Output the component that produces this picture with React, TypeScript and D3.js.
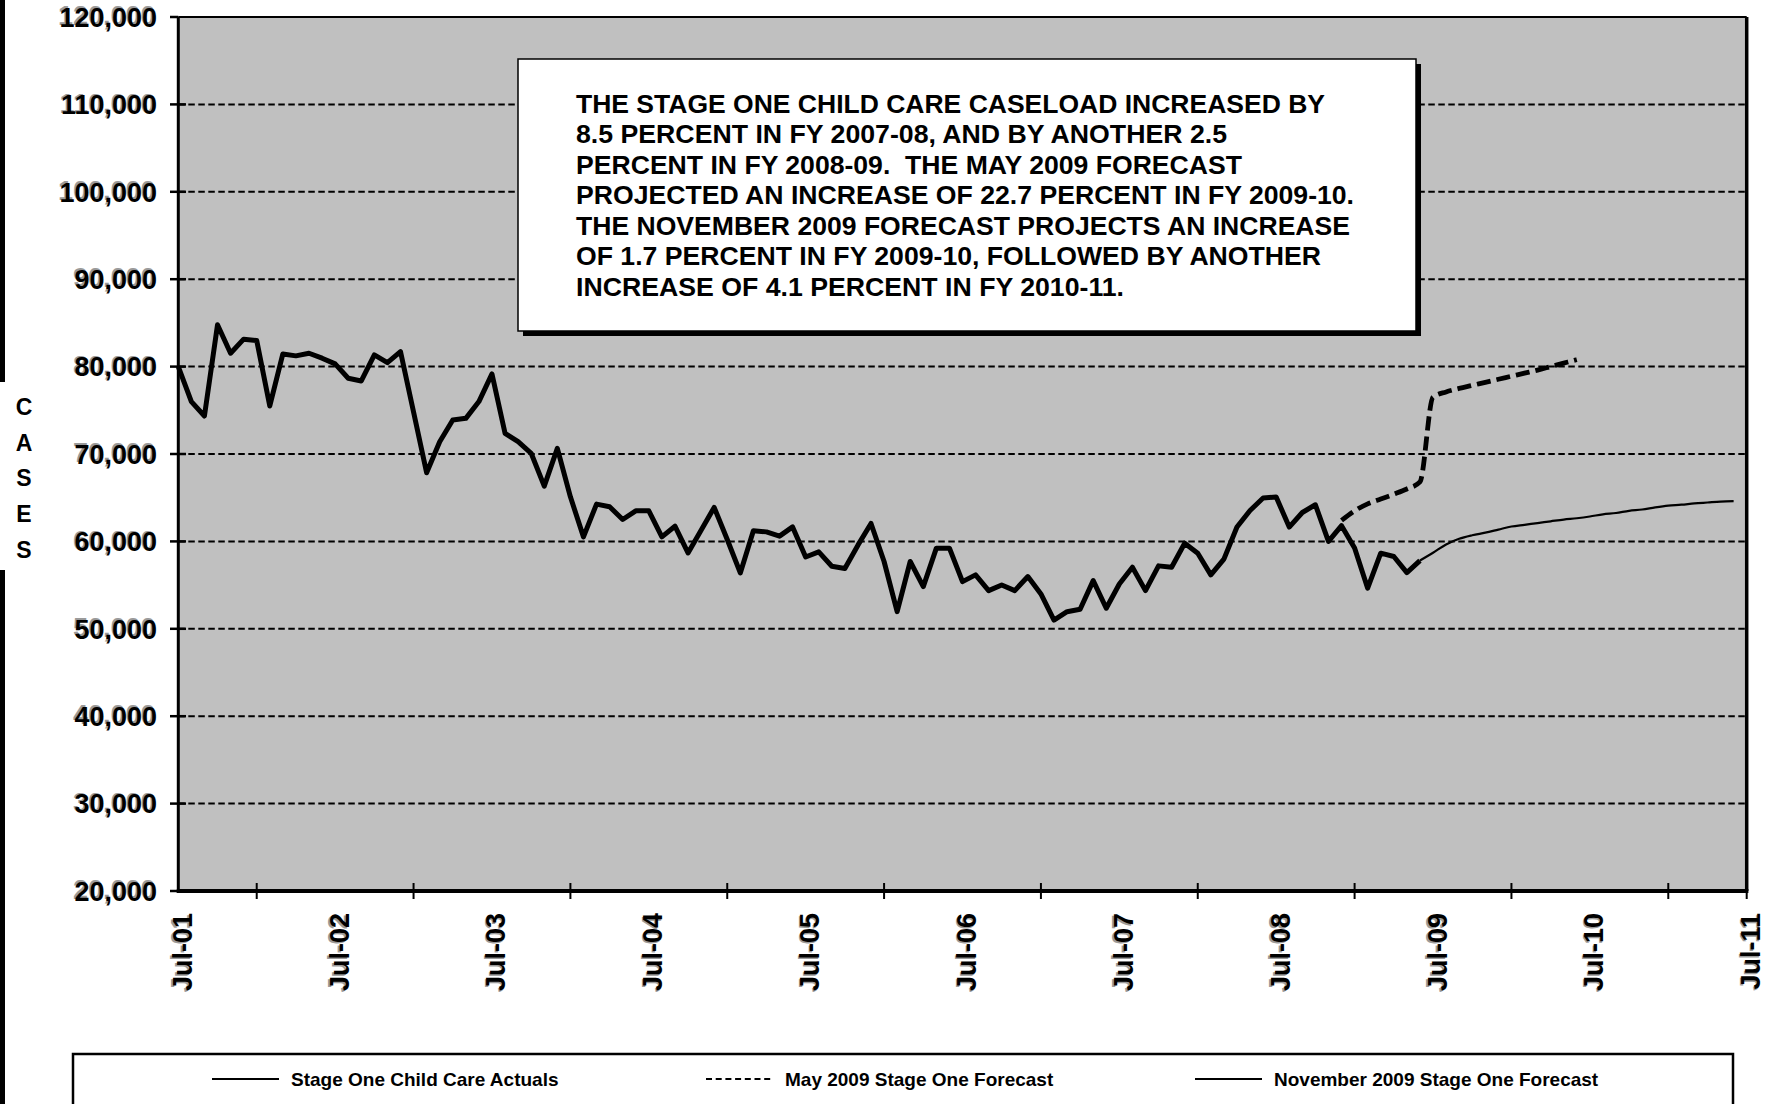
import React from 'react';
import * as d3 from 'd3';

// Monthly caseload, index 0 = Jul-01
const actualStart = 0;
const actuals = [
  80000, 76000, 74350, 84780, 81530, 83140, 82980, 75500, 81450, 81230, 81530, 80960,
  80310, 78670, 78360, 81340, 80460, 81720, 74810, 67860, 71410, 73890, 74080, 76000,
  79160, 72370, 71410, 70080, 66330, 70650, 65100, 60520, 64270, 63960, 62510, 63500,
  63500, 60520, 61740, 58680, 61280, 63890, 60220, 56390, 61210, 61090, 60600, 61660,
  58220, 58800, 57160, 56890, 59570, 62050, 57700, 51960, 57700, 54830, 59230, 59230,
  55400, 56170, 54370, 55020, 54370, 55980, 53990, 51000, 51960, 52230, 55510, 52350,
  55130, 57040, 54370, 57200, 57040, 59790, 58650, 56170, 57970, 61640, 63540, 64960,
  65080, 61640, 63310, 64190, 60000, 61800, 59240, 54650, 58650, 58270, 56430, 57810,
];

const mayStart = 89;
const mayForecast = [
  62400, 63500, 64300, 64850, 65400, 66000, 66800, 76500, 77100, 77500, 77850, 78200,
  78550, 78900, 79250, 79600, 80000, 80400, 80800,
];

const novStart = 95;
const novForecast = [
  57810, 58700, 59650, 60300, 60700, 61000, 61350, 61700, 61900, 62100, 62300, 62500,
  62650, 62850, 63100, 63250, 63500, 63650, 63900, 64100, 64200, 64350, 64450, 64550, 64600,
];

const yTicks = [20000, 30000, 40000, 50000, 60000, 70000, 80000, 90000, 100000, 110000, 120000];
const xLabels = ['Jul-01', 'Jul-02', 'Jul-03', 'Jul-04', 'Jul-05', 'Jul-06', 'Jul-07', 'Jul-08', 'Jul-09', 'Jul-10', 'Jul-11'];
const xTickMonths = [6, 18, 30, 42, 54, 66, 78, 90, 102, 114, 120];

const noteLines = [
  'THE STAGE ONE CHILD CARE CASELOAD INCREASED BY',
  '8.5 PERCENT IN FY 2007-08, AND BY ANOTHER 2.5',
  'PERCENT IN FY 2008-09.  THE MAY 2009 FORECAST',
  'PROJECTED AN INCREASE OF 22.7 PERCENT IN FY 2009-10.',
  'THE NOVEMBER 2009 FORECAST PROJECTS AN INCREASE',
  'OF 1.7 PERCENT IN FY 2009-10, FOLLOWED BY ANOTHER',
  'INCREASE OF 4.1 PERCENT IN FY 2010-11.',
];
const noteWidths = [749, 651, 666, 778, 774, 745, 548];

const legendLabels = ['Stage One Child Care Actuals', 'May 2009 Stage One Forecast', 'November 2009 Stage One Forecast'];
const legendDash = ['', '6,3.7', ''];
const legendLineX = [212, 706, 1195];

const axisLetters = ['C', 'A', 'S', 'E', 'S'];

const FONT = "'Liberation Sans', Arial, Helvetica, sans-serif";

export default function App() {
  const W = 1765;
  const H = 1104;
  const left = 178.3;
  const right = 1746.7;
  const top = 17;
  const bottom = 891;

  const x = d3.scaleLinear().domain([0, 120]).range([left, right]);
  const y = d3.scaleLinear().domain([20000, 120000]).range([bottom, top]);

  const toPts = (arr: number[], start: number) => arr.map((v, i) => [start + i, v] as [number, number]);

  const linear = d3.line<[number, number]>().x(d => x(d[0])).y(d => y(d[1])).curve(d3.curveLinear);
  const smooth = d3.line<[number, number]>().x(d => x(d[0])).y(d => y(d[1])).curve(d3.curveMonotoneX);

  const grid = yTicks.filter(t => t > 20000 && t < 120000);
  const fmt = d3.format(',');

  return (
    <svg width={W} height={H} style={{ position: 'absolute', left: 0, top: 0, display: 'block', background: '#fff' }} fontFamily={FONT}>
      <rect x={0} y={0} width={W} height={H} fill="#fff" />
      {/* left edge border */}
      <rect x={0} y={0} width={5} height={H} fill="#000" />
      <rect x={0} y={382} width={48} height={188} fill="#fff" />

      {/* plot area */}
      <rect x={left} y={top} width={right - left} height={bottom - top} fill="#c0c0c0" />

      {/* gridlines */}
      {grid.map(t => (
        <line key={t} x1={left} x2={right} y1={y(t)} y2={y(t)} stroke="#000" strokeWidth={2} strokeDasharray="6.5,3.5" />
      ))}

      {/* borders */}
      <line x1={left} x2={right} y1={top} y2={top} stroke="#000" strokeWidth={2} />
      <line x1={right} x2={right} y1={top} y2={bottom} stroke="#000" strokeWidth={3.5} />
      <line x1={left} x2={left} y1={top} y2={bottom + 2} stroke="#000" strokeWidth={3} />
      <line x1={left - 1.5} x2={right + 1.7} y1={bottom} y2={bottom} stroke="#000" strokeWidth={4} />

      {/* y ticks and labels */}
      {yTicks.map(t => (
        <g key={t}>
          <line x1={170} x2={t === 20000 || t === 120000 ? left : 186} y1={y(t)} y2={y(t)} stroke="#000" strokeWidth={2.5} />
          <text x={155.5} y={y(t) - 1.5} dy="0.36em" textAnchor="end" fontSize={27} fontWeight="bold" fill="#9a9a9a">{fmt(t)}</text>
          <text x={157} y={y(t)} dy="0.36em" textAnchor="end" fontSize={27} fontWeight="bold" fill="#000">{fmt(t)}</text>
        </g>
      ))}

      {/* x ticks */}
      {xTickMonths.map(m => (
        <line key={m} x1={x(m)} x2={x(m)} y1={bottom - 8} y2={bottom + 8} stroke="#000" strokeWidth={2} />
      ))}
      {xLabels.map((lab, i) => (
        <g key={lab} transform={`translate(${x(i * 12)},913) rotate(-90)`}>
          <text x={-1.5} y={-1.5} dy="0.5em" textAnchor="end" fontSize={27} fontWeight="bold" fill="#9a9a9a">{lab}</text>
          <text x={0} y={0} dy="0.5em" textAnchor="end" fontSize={27} fontWeight="bold" fill="#000">{lab}</text>
        </g>
      ))}

      {/* series */}
      <path d={linear(toPts(actuals, actualStart)) || ''} fill="none" stroke="#000" strokeWidth={5} strokeLinejoin="round" />
      <path d={smooth(toPts(novForecast, novStart)) || ''} fill="none" stroke="#000" strokeWidth={2.2} strokeLinejoin="round" />
      <path d={smooth(toPts(mayForecast, mayStart)) || ''} fill="none" stroke="#000" strokeWidth={4.8} strokeDasharray="14,6" />

      {/* annotation box */}
      <rect x={523} y={64} width={898} height={272} fill="#000" />
      <rect x={518} y={59} width={898} height={272} fill="#fff" stroke="#000" strokeWidth={1.5} />
      {noteLines.map((ln, i) => (
        <text key={i} x={576} y={112.5 + i * 30.55} fontSize={25} fontWeight="bold" fill="#000"
          textLength={noteWidths[i]} lengthAdjust="spacingAndGlyphs" style={{ whiteSpace: 'pre' }}>{ln}</text>
      ))}

      {/* y axis title */}
      {axisLetters.map((c, i) => (
        <text key={i} x={24} y={415 + i * 35.7} textAnchor="middle" fontSize={23} fontWeight="bold" fill="#000">{c}</text>
      ))}

      {/* legend */}
      <rect x={73} y={1054} width={1660} height={70} fill="#fff" stroke="#000" strokeWidth={2.5} />
      {legendLabels.map((lab, i) => (
        <g key={lab}>
          <line x1={legendLineX[i]} x2={legendLineX[i] + 67} y1={1079} y2={1079} stroke="#000" strokeWidth={2}
            strokeDasharray={legendDash[i] || undefined} />
          <text x={legendLineX[i] + 79} y={1086} fontSize={19} fontWeight="bold" fill="#000">{lab}</text>
        </g>
      ))}
    </svg>
  );
}
